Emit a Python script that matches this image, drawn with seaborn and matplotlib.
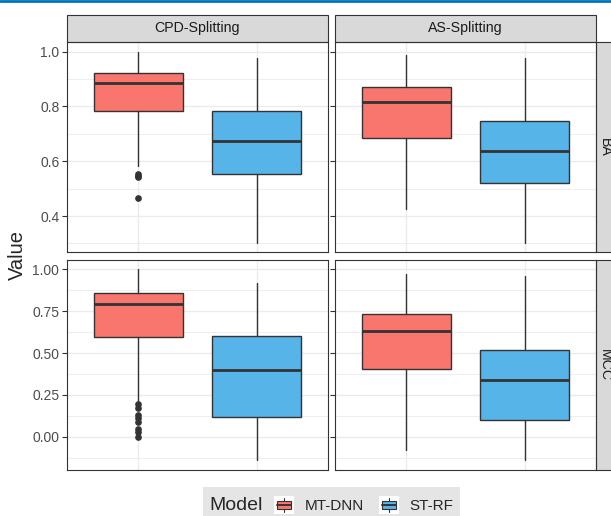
import numpy as np
import pandas as pd
import matplotlib
matplotlib.use("Agg")
import matplotlib.pyplot as plt
import matplotlib.ticker as ticker
from matplotlib.patches import Rectangle
from matplotlib.lines import Line2D
from matplotlib.legend_handler import HandlerBase
import seaborn as sns


# box summaries (per facet, per model)
metrics = ["BA", "MCC"]
splits = ["CPD-Splitting", "AS-Splitting"]
models = ["MT-DNN", "ST-RF"]

# whisker low, Q1, median, Q3, whisker high
ba_cpd_mt = [0.584, 0.782, 0.884, 0.920, 1.000]
ba_cpd_st = [0.302, 0.552, 0.675, 0.784, 0.975]
ba_as_mt = [0.427, 0.684, 0.815, 0.872, 0.988]
ba_as_st = [0.303, 0.520, 0.639, 0.748, 0.978]
mcc_cpd_mt = [0.215, 0.593, 0.790, 0.855, 1.000]
mcc_cpd_st = [-0.135, 0.116, 0.398, 0.602, 0.920]
mcc_as_mt = [-0.079, 0.402, 0.634, 0.732, 0.974]
mcc_as_st = [-0.140, 0.100, 0.338, 0.517, 0.958]

ba_cpd_mt_out = [0.553, 0.547, 0.541, 0.467]
mcc_cpd_mt_out = [0.199, 0.170, 0.130, 0.110, 0.090, 0.050, 0.030, 0.000]

palette = {"MT-DNN": "#F8766D", "ST-RF": "#56B4E9"}

rows = [
    ("BA", "CPD-Splitting", "MT-DNN", ba_cpd_mt, ba_cpd_mt_out),
    ("BA", "CPD-Splitting", "ST-RF", ba_cpd_st, []),
    ("BA", "AS-Splitting", "MT-DNN", ba_as_mt, []),
    ("BA", "AS-Splitting", "ST-RF", ba_as_st, []),
    ("MCC", "CPD-Splitting", "MT-DNN", mcc_cpd_mt, mcc_cpd_mt_out),
    ("MCC", "CPD-Splitting", "ST-RF", mcc_cpd_st, []),
    ("MCC", "AS-Splitting", "MT-DNN", mcc_as_mt, []),
    ("MCC", "AS-Splitting", "ST-RF", mcc_as_st, []),
]
df = pd.DataFrame(
    [dict(Metric=m, Split=s, Model=mo, whislo=v[0], q1=v[1], med=v[2], q3=v[3], whishi=v[4], fliers=o)
     for m, s, mo, v, o in rows]
)

sns.set_theme(style="whitegrid")
plt.rcParams["font.family"] = ["Liberation Sans", "DejaVu Sans"]

DARK = "#333333"


def draw_panel(data, **kws):
    ax = plt.gca()
    data = data.set_index("Model").loc[models]
    stats = [dict(whislo=r.whislo, q1=r.q1, med=r.med, q3=r.q3, whishi=r.whishi,
                  fliers=np.array(r.fliers)) for r in data.itertuples()]
    res = ax.bxp(stats, positions=np.arange(1, len(stats) + 1), widths=0.75,
                 patch_artist=True, showcaps=False, showfliers=True,
                 boxprops=dict(edgecolor=DARK, linewidth=1.0),
                 medianprops=dict(color=DARK, linewidth=2.0),
                 whiskerprops=dict(color=DARK, linewidth=1.0),
                 flierprops=dict(marker="o", markerfacecolor=DARK, markeredgecolor=DARK,
                                 markersize=3.8, linestyle="none"))
    for box, mo in zip(res["boxes"], models):
        box.set_facecolor(palette[mo])
        box.set_zorder(2)


g = sns.FacetGrid(df, row="Metric", col="Split", row_order=metrics, col_order=splits,
                  sharex=True, sharey="row", height=2.5, aspect=1.2, despine=False)
g.map_dataframe(draw_panel)

fig = g.figure
fig.set_size_inches(6.11, 5.16)
fig.subplots_adjust(left=67 / 611, right=596 / 611, bottom=46 / 516, top=1 - 42 / 516,
                    wspace=0.027, hspace=0.034)

for i, metric in enumerate(metrics):
    sub = df[df.Metric == metric]
    lo = min(sub.whislo.min(), min([min(f) for f in sub.fliers if len(f)] or [np.inf]))
    hi = max(sub.whishi.max(), max([max(f) for f in sub.fliers if len(f)] or [-np.inf]))
    pad = (hi - lo) * 0.05
    for j, split in enumerate(splits):
        ax = g.axes[i, j]
        ax.set_title("")
        ax.set_xlabel("")
        ax.set_ylabel("")
        ax.set_xlim(0.4, 2.6)
        ax.set_ylim(lo - pad, hi + pad)
        ax.set_xticks([1, 2])
        ax.set_xticklabels([])
        if metric == "BA":
            ax.yaxis.set_major_locator(ticker.MultipleLocator(0.2))
            ax.yaxis.set_minor_locator(ticker.MultipleLocator(0.1))
            ax.yaxis.set_major_formatter(ticker.FormatStrFormatter("%.1f"))
        else:
            ax.yaxis.set_major_locator(ticker.MultipleLocator(0.25))
            ax.yaxis.set_minor_locator(ticker.MultipleLocator(0.125))
            ax.yaxis.set_major_formatter(ticker.FormatStrFormatter("%.2f"))
        ax.set_facecolor("white")
        ax.grid(which="major", color="#EBEBEB", linewidth=1.0)
        ax.grid(which="minor", axis="y", color="#EBEBEB", linewidth=0.6)
        ax.set_axisbelow(True)
        ax.tick_params(axis="x", length=0)
        ax.tick_params(axis="y", which="major", length=3.5, width=0.8, color=DARK,
                       labelcolor="#4D4D4D", labelsize=10, pad=2, left=True)
        ax.tick_params(axis="y", which="minor", length=0)
        for sp in ax.spines.values():
            sp.set_visible(True)
            sp.set_color(DARK)
            sp.set_linewidth(0.8)

        # facet strips
        if i == 0:
            ax.add_patch(Rectangle((0, 1.0), 1, 27 / 210, transform=ax.transAxes,
                                   facecolor="#D9D9D9", edgecolor=DARK, linewidth=0.8,
                                   clip_on=False))
            ax.text(0.5, 1 + 13.5 / 210, split, transform=ax.transAxes, ha="center",
                    va="center", fontsize=10.2, color="#1A1A1A")
        if j == len(splits) - 1:
            ax.add_patch(Rectangle((1.0, 0), 27 / 261, 1, transform=ax.transAxes,
                                   facecolor="#D9D9D9", edgecolor=DARK, linewidth=0.8,
                                   clip_on=False))
            ax.text(1 + 8.5 / 261, 0.5, metric, transform=ax.transAxes, ha="center",
                    va="center", rotation=-90, fontsize=10.2, color="#1A1A1A")

fig.text(17 / 611, 1 - 255 / 516, "Value", rotation=90, ha="center", va="center", fontsize=14.5)

# blue rule at the very top
fig.add_artist(Line2D([0, 1], [1 - 1 / 516, 1 - 1 / 516], transform=fig.transFigure,
                      color="#0072BC", linewidth=2))


class BoxKey(HandlerBase):
    def create_artists(self, legend, orig_handle, xdescent, ydescent, width, height, fontsize, trans):
        x0, y0 = -xdescent, -ydescent
        cx, cy = x0 + width / 2, y0 + height / 2
        bg = Rectangle((x0, y0), width, height, facecolor="white", edgecolor="none", transform=trans)
        wl = Line2D([cx, cx], [y0 + height * 0.1, y0 + height * 0.9], color=DARK, lw=0.8, transform=trans)
        bx = Rectangle((x0 + width * 0.15, y0 + height * 0.28), width * 0.7, height * 0.44,
                       facecolor=orig_handle.get_facecolor(), edgecolor=DARK, lw=0.8, transform=trans)
        md = Line2D([x0 + width * 0.15, x0 + width * 0.85], [cy, cy], color=DARK, lw=1.4, transform=trans)
        return [bg, wl, bx, md]


fig.add_artist(Rectangle((203 / 611, 0), 257 / 611, 29 / 516, transform=fig.transFigure,
                         facecolor="#E5E5E5", edgecolor="none"))
fig.text(209 / 611, 11 / 516, "Model", ha="left", va="center", fontsize=14)
handles = [Rectangle((0, 0), 1, 1, facecolor=palette[m]) for m in models]
fig.legend(handles, models, handler_map={Rectangle: BoxKey()}, loc="center left",
           bbox_to_anchor=(274 / 611, 11 / 516), ncol=2, frameon=False, fontsize=11,
           handlelength=1.3, handleheight=1.4, handletextpad=0.7, columnspacing=1.0,
           borderpad=0, borderaxespad=0)

fig.savefig("out.png", dpi=100, facecolor="white")
